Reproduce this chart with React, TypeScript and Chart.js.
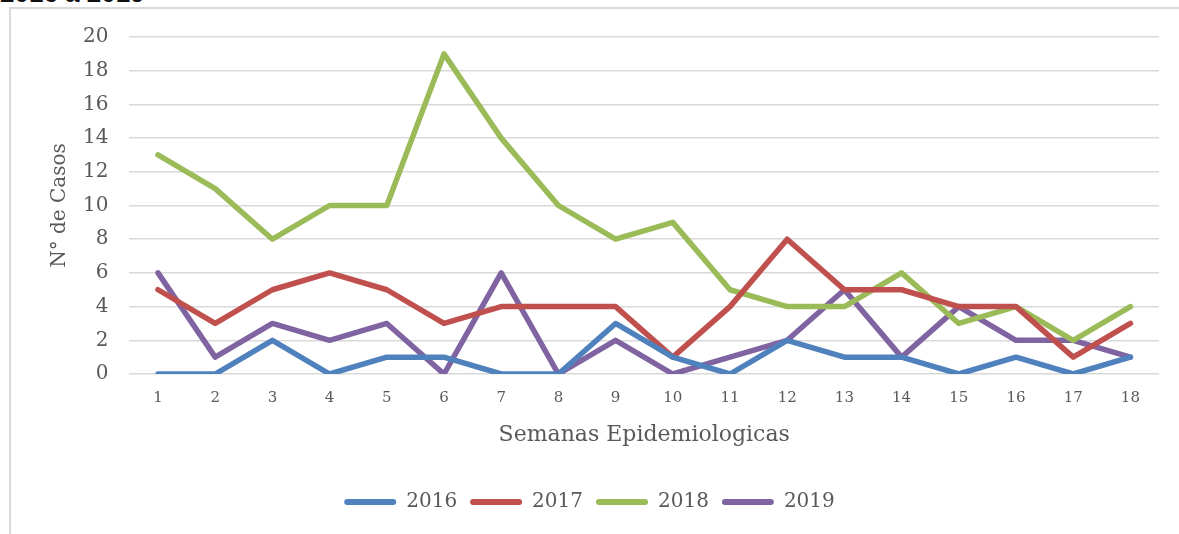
import { useEffect, useRef } from "react";
import { Chart, registerables } from "chart.js";

Chart.register(...registerables);

const weeks = ["1", "2", "3", "4", "5", "6", "7", "8", "9", "10", "11", "12", "13", "14", "15", "16", "17", "18"];
const cases2016 = [0, 0, 2, 0, 1, 1, 0, 0, 3, 1, 0, 2, 1, 1, 0, 1, 0, 1];
const cases2017 = [5, 3, 5, 6, 5, 3, 4, 4, 4, 1, 4, 8, 5, 5, 4, 4, 1, 3];
const cases2018 = [13, 11, 8, 10, 10, 19, 14, 10, 8, 9, 5, 4, 4, 6, 3, 4, 2, 4];
const cases2019 = [6, 1, 3, 2, 3, 0, 6, 0, 2, 0, 1, 2, 5, 1, 4, 2, 2, 1];
const seriesNames = ["2016", "2017", "2018", "2019"];
const seriesColors = ["#4F81BD", "#C0504D", "#9BBB59", "#8064A2"];
const yTicks = [0, 2, 4, 6, 8, 10, 12, 14, 16, 18, 20];

const FONT = "'DejaVu Serif', serif";
const TEXT = "#595959";

export default function App() {
  const ref = useRef<HTMLCanvasElement | null>(null);

  useEffect(() => {
    if (!ref.current) return;
    const values = [cases2016, cases2017, cases2018, cases2019];
    const chart = new Chart(ref.current, {
      type: "line",
      data: {
        labels: weeks,
        datasets: seriesNames.map((name, i) => ({
          label: name,
          data: values[i],
          borderColor: seriesColors[i],
          backgroundColor: seriesColors[i],
          borderWidth: 5.5,
          pointRadius: 0,
          tension: 0,
          borderCapStyle: "round" as const,
          borderJoinStyle: "round" as const,
        })),
      },
      options: {
        animation: false,
        responsive: false,
        maintainAspectRatio: false,
        layout: { padding: { left: 20, right: 20, top: 37, bottom: 12 } },
        plugins: {
          tooltip: { enabled: false },
          legend: {
            position: "bottom",
            labels: {
              boxWidth: 52,
              boxHeight: 6,
              useBorderRadius: true,
              borderRadius: 3,
              color: TEXT,
              font: { family: FONT, size: 20 },
              padding: 13,
              generateLabels: (c: any) =>
                Chart.defaults.plugins.legend.labels
                  .generateLabels(c)
                  .map((l: any) => ({ ...l, lineWidth: 0 })),
            },
          },
        },
        scales: {
          x: {
            offset: true,
            grid: { display: false, drawTicks: false },
            border: { display: false },
            ticks: { color: TEXT, font: { family: FONT, size: 15 }, padding: 15, maxRotation: 0 },
            title: {
              display: true,
              text: "Semanas Epidemiologicas",
              color: TEXT,
              font: { family: FONT, size: 22 },
              padding: { top: 6, bottom: 31 },
            },
            afterFit: (scale: any) => {
              scale.height = 105;
            },
          },
          y: {
            min: 0,
            max: 20,
            afterBuildTicks: (scale: any) => {
              scale.ticks = yTicks.map((v) => ({ value: v }));
            },
            grid: { color: "#D9D9D9", lineWidth: 1.5, drawTicks: false },
            border: { display: false },
            ticks: { color: TEXT, font: { family: FONT, size: 20 }, padding: 21 },
            title: {
              display: true,
              text: "N° de Casos",
              color: TEXT,
              font: { family: FONT, size: 20 },
              padding: { top: 28, bottom: 4 },
            },
            afterFit: (scale: any) => {
              scale.width = 109.4;
            },
          },
        },
      },
    });
    return () => chart.destroy();
  }, []);

  return (
    <div style={{ position: "fixed", left: 0, top: 0, width: 1179, height: 534, overflow: "hidden", background: "#fff" }}>
      <div
        style={{
          position: "absolute",
          left: 0,
          top: -22,
          fontFamily: "'Liberation Sans', Arial, sans-serif",
          fontSize: 26,
          fontWeight: "bold",
          color: "#111",
          whiteSpace: "nowrap",
          lineHeight: "30px",
        }}
      >
        2016 a 2019
      </div>
      <div
        style={{
          position: "absolute",
          left: 9,
          top: 7,
          width: 1300,
          height: 600,
          borderLeft: "2px solid #D9D9D9",
          borderTop: "2px solid #D9D9D9",
        }}
      />
      <canvas ref={ref} width={1179} height={534} style={{ position: "absolute", left: 0, top: 0 }} />
    </div>
  );
}
